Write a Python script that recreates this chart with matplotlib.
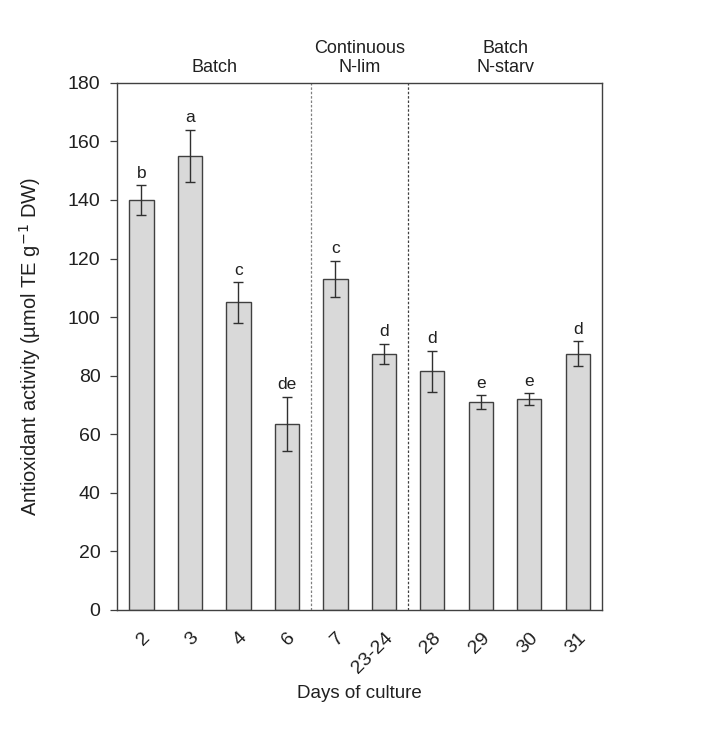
import matplotlib
matplotlib.use('Agg')
import matplotlib.pyplot as plt
import numpy as np

plt.rcParams['font.family'] = ['Liberation Sans', 'DejaVu Sans']

# data
days = ['2', '3', '4', '6', '7', '23-24', '28', '29', '30', '31']
activity = [140, 155, 105, 63.5, 113, 87.5, 81.5, 71, 72, 87.5]
errors = [5, 9, 7, 9.3, 6.2, 3.4, 7, 2.4, 2, 4.3]
letters = ['b', 'a', 'c', 'de', 'c', 'd', 'd', 'e', 'e', 'd']
groupNames = ['Batch', 'Continuous\nN-lim', 'Batch\nN-starv']
groupStart = [0, 4, 6]
groupEnd = [4, 6, 10]

fig = plt.figure(figsize=(7.28, 7.33), dpi=100)
ax = fig.add_axes([0.161, 0.168, 0.666, 0.719])

x = np.arange(len(days))
edge = '#404040'
ax.bar(x, activity, width=0.5, color='#d9d9d9', edgecolor=edge, linewidth=1.0, zorder=2)
ax.errorbar(x, activity, yerr=errors, fmt='none', ecolor='#303030', elinewidth=1.0,
            capsize=3.5, capthick=1.0, zorder=3)

for i in range(len(days)):
    ax.text(x[i], activity[i] + errors[i] + 1.5, letters[i], ha='center', va='bottom',
            fontsize=12.5, color='#202020')

# dashed separators between culture modes
ax.axvline(3.5, color='#808080', linestyle=(0, (2, 1.5)), linewidth=0.9, zorder=1)
ax.axvline(5.5, color='#404040', linestyle=(0, (2, 1.5)), linewidth=0.9, zorder=1)

for name, s, e in zip(groupNames, groupStart, groupEnd):
    ax.text((s + e - 1) / 2.0, 182.5, name, ha='center', va='bottom', fontsize=13,
            color='#202020', linespacing=1.1)

ax.set_xlim(-0.5, len(days) - 0.5)
ax.set_ylim(0, 180)
ax.set_yticks(np.arange(0, 181, 20))
ax.set_xticks(x)
ax.set_xticklabels(days, rotation=45, ha='right', rotation_mode='anchor')
ax.tick_params(axis='x', length=0, pad=14, labelsize=14, colors='#202020')
ax.tick_params(axis='y', direction='out', length=5, width=0.9, color=edge, labelsize=14,
               labelcolor='#202020', pad=7)
for sp in ax.spines.values():
    sp.set_color(edge)
    sp.set_linewidth(1.0)

ax.set_ylabel('Antioxidant activity (µmol TE g$^{-1}$ DW)', fontsize=14.5, color='#202020', labelpad=18)
ax.set_xlabel('Days of culture', fontsize=13.5, color='#202020', labelpad=6)

fig.savefig('out.png', dpi=100, facecolor='white')
